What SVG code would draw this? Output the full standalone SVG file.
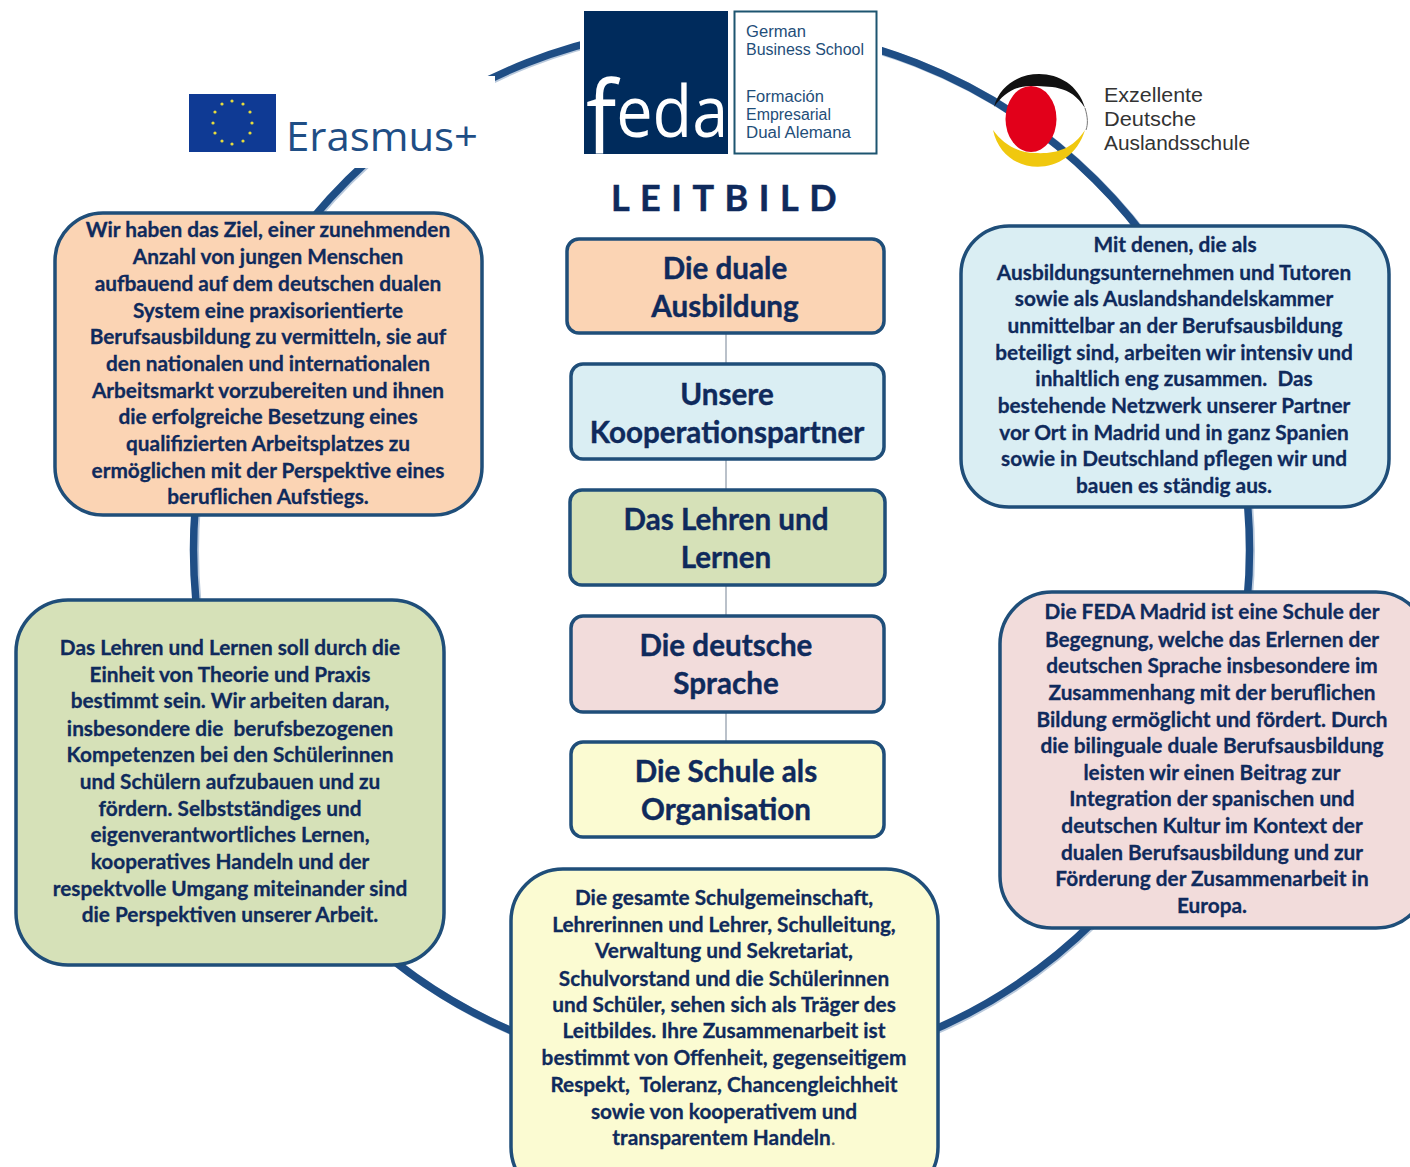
<svg xmlns="http://www.w3.org/2000/svg" width="1410" height="1167" viewBox="0 0 1410 1167">
<style>
text{font-family:"Lato","Liberation Sans",sans-serif;white-space:pre}
.b{font-weight:700;fill:#0f2a5c;font-size:20.8px;text-anchor:middle;stroke:#0f2a5c;stroke-width:.3}
.h{font-weight:700;fill:#0f2a5c;font-size:29.600px;text-anchor:middle;stroke:#0f2a5c;stroke-width:.4}
.box{stroke:#1f4e79;stroke-width:3.5}
.lg{fill:#1f4e79;font-size:15.600px;font-family:"Liberation Sans",sans-serif}
.ex{fill:#333;font-size:20px;font-family:"Liberation Sans",sans-serif}
</style>
<rect width="1410" height="1167" fill="#fff"/>
<g id="connectors">
<ellipse cx="723" cy="551" rx="528" ry="524" fill="none" stroke="#b9c9dc" stroke-width="8"/>
<ellipse cx="721.500" cy="550" rx="528" ry="524" fill="none" stroke="#1f4e85" stroke-width="7.500"/>
<path d="M726 330V745" stroke="#a3adb8" stroke-width="1.500" fill="none"/>
</g>
<g id="logo-erasmus">
<rect x="170" y="76" width="325" height="92" fill="#fff"/>
<rect x="189" y="94" width="87" height="58" fill="#0f3a94"/>
<g fill="#e8dc3c"><circle cx="232" cy="101" r="1.600"/><circle cx="243" cy="104" r="1.600"/><circle cx="250" cy="112" r="1.600"/><circle cx="252" cy="123" r="1.600"/><circle cx="250" cy="133" r="1.600"/><circle cx="243" cy="141" r="1.600"/><circle cx="232" cy="144" r="1.600"/><circle cx="222" cy="141" r="1.600"/><circle cx="215" cy="133" r="1.600"/><circle cx="213" cy="123" r="1.600"/><circle cx="215" cy="112" r="1.600"/><circle cx="222" cy="104" r="1.600"/></g>
<text x="286" y="151" font-size="40" fill="#1f4e85" style="font-family:'Open Sans','Liberation Sans',sans-serif" textLength="192" lengthAdjust="spacingAndGlyphs">Erasmus+</text>
</g>
<g id="logo-feda">
<rect x="580" y="0" width="302" height="165" fill="#fff"/>
<rect x="584" y="11" width="144" height="143" fill="#002b5c"/>
<text transform="scale(.9,1)" x="651" y="154" fill="#fff" font-weight="400" style="font-family:'Open Sans','Liberation Sans',sans-serif"><tspan font-size="100">f</tspan><tspan font-size="72" dy="-17">eda</tspan></text>
<rect x="734.500" y="11.500" width="142" height="142" fill="#fff" stroke="#1d5570" stroke-width="2"/>
<text class="lg" x="746" y="37" textLength="60" lengthAdjust="spacingAndGlyphs">German</text>
<text class="lg" x="746" y="55" textLength="118" lengthAdjust="spacingAndGlyphs">Business School</text>
<text class="lg" x="746" y="102" textLength="78" lengthAdjust="spacingAndGlyphs">Formación</text>
<text class="lg" x="746" y="120" textLength="85" lengthAdjust="spacingAndGlyphs">Empresarial</text>
<text class="lg" x="746" y="138" textLength="105" lengthAdjust="spacingAndGlyphs">Dual Alemana</text>
</g>
<g id="logo-exzellente">
<path d="M994 107C1005 64 1072 62 1085 108C1070 84 1050 87 1030 86C1015 86 1003 94 994 107Z" fill="#111"/>
<path d="M1085 108C1088 118 1088 124 1086 130" fill="none" stroke="#777" stroke-width="1"/>
<ellipse cx="1031" cy="119" rx="25.500" ry="33" fill="#e2001a"/>
<path d="M993 130C1003 178 1070 180 1085 130C1072 150 1055 154 1035 153C1018 153 1003 144 993 130Z" fill="#f0c80f"/>
<text class="ex" x="1104" y="102" textLength="99" lengthAdjust="spacingAndGlyphs">Exzellente</text>
<text class="ex" x="1104" y="126" textLength="92" lengthAdjust="spacingAndGlyphs">Deutsche</text>
<text class="ex" x="1104" y="150" textLength="146" lengthAdjust="spacingAndGlyphs">Auslandsschule</text>
</g>
<text id="title" x="729" y="211" font-size="36" font-weight="700" fill="#0f2a5c" stroke="#0f2a5c" stroke-width=".5" text-anchor="middle" letter-spacing="10.500">LEITBILD</text>
<g id="h1"><rect class="box" x="567" y="239" width="317" height="94" rx="12" fill="#fbd4b4"/><text class="h" x="725" y="279">Die duale</text><text class="h" x="725" y="317">Ausbildung</text></g>
<g id="h2"><rect class="box" x="571" y="364" width="313" height="95" rx="12" fill="#daeef3"/><text class="h" x="727" y="405">Unsere</text><text class="h" x="727" y="443">Kooperationspartner</text></g>
<g id="h3"><rect class="box" x="570" y="490" width="315" height="95" rx="12" fill="#d6e1b8"/><text class="h" x="726" y="530">Das Lehren und</text><text class="h" x="726" y="568">Lernen</text></g>
<g id="h4"><rect class="box" x="571" y="616" width="313" height="96" rx="12" fill="#f2dcdb"/><text class="h" x="726" y="656">Die deutsche</text><text class="h" x="726" y="694">Sprache</text></g>
<g id="h5"><rect class="box" x="571" y="742" width="313" height="95" rx="12" fill="#fbfbd2"/><text class="h" x="726" y="782">Die Schule als</text><text class="h" x="726" y="820">Organisation</text></g>
<g id="t-orange"><rect class="box" x="55" y="213" width="427" height="302" rx="48" fill="#fbd4b4"/>
<text class="b" x="268" y="237">Wir haben das Ziel, einer zunehmenden</text><text class="b" x="268" y="264">Anzahl von jungen Menschen</text><text class="b" x="268" y="291">aufbauend auf dem deutschen dualen</text><text class="b" x="268" y="318">System eine praxisorientierte</text><text class="b" x="268" y="344">Berufsausbildung zu vermitteln, sie auf</text><text class="b" x="268" y="371">den nationalen und internationalen</text><text class="b" x="268" y="398">Arbeitsmarkt vorzubereiten und ihnen</text><text class="b" x="268" y="424">die erfolgreiche Besetzung eines</text><text class="b" x="268" y="451">qualifizierten Arbeitsplatzes zu</text><text class="b" x="268" y="478">ermöglichen mit der Perspektive eines</text><text class="b" x="268" y="504">beruflichen Aufstiegs.</text></g>
<g id="t-blue"><rect class="box" x="961" y="226" width="428" height="281" rx="48" fill="#daeef3"/>
<text class="b" x="1175" y="252">Mit denen, die als</text><text class="b" x="1174" y="280">Ausbildungsunternehmen und Tutoren</text><text class="b" x="1174" y="306">sowie als Auslandshandelskammer</text><text class="b" x="1175" y="333">unmittelbar an der Berufsausbildung</text><text class="b" x="1174" y="360">beteiligt sind, arbeiten wir intensiv und</text><text class="b" x="1174" y="386">inhaltlich eng zusammen.  Das</text><text class="b" x="1174" y="413">bestehende Netzwerk unserer Partner</text><text class="b" x="1174" y="440">vor Ort in Madrid und in ganz Spanien</text><text class="b" x="1174" y="466">sowie in Deutschland pflegen wir und</text><text class="b" x="1174" y="493">bauen es ständig aus.</text></g>
<g id="t-green"><rect class="box" x="16" y="600" width="428" height="365" rx="52" fill="#d6e1b8"/>
<text class="b" x="230" y="655">Das Lehren und Lernen soll durch die</text><text class="b" x="230" y="682">Einheit von Theorie und Praxis</text><text class="b" x="230" y="708">bestimmt sein. Wir arbeiten daran,</text><text class="b" x="230" y="736">insbesondere die  berufsbezogenen</text><text class="b" x="230" y="762">Kompetenzen bei den Schülerinnen</text><text class="b" x="230" y="789">und Schülern aufzubauen und zu</text><text class="b" x="230" y="816">fördern. Selbstständiges und</text><text class="b" x="230" y="842">eigenverantwortliches Lernen,</text><text class="b" x="230" y="869">kooperatives Handeln und der</text><text class="b" x="230" y="896">respektvolle Umgang miteinander sind</text><text class="b" x="230" y="922">die Perspektiven unserer Arbeit.</text></g>
<g id="t-pink"><rect class="box" x="1000" y="592" width="428" height="336" rx="52" fill="#f2dcdb"/>
<text class="b" x="1212" y="619">Die FEDA Madrid ist eine Schule der</text><text class="b" x="1212" y="647">Begegnung, welche das Erlernen der</text><text class="b" x="1212" y="673">deutschen Sprache insbesondere im</text><text class="b" x="1212" y="700">Zusammenhang mit der beruflichen</text><text class="b" x="1212" y="727">Bildung ermöglicht und fördert. Durch</text><text class="b" x="1212" y="753">die bilinguale duale Berufsausbildung</text><text class="b" x="1212" y="780">leisten wir einen Beitrag zur</text><text class="b" x="1212" y="806">Integration der spanischen und</text><text class="b" x="1212" y="833">deutschen Kultur im Kontext der</text><text class="b" x="1212" y="860">dualen Berufsausbildung und zur</text><text class="b" x="1212" y="886">Förderung der Zusammenarbeit in</text><text class="b" x="1212" y="913">Europa.</text></g>
<g id="t-yellow"><rect class="box" x="511" y="869" width="427" height="330" rx="52" fill="#fbfbd2"/>
<text class="b" x="724" y="905">Die gesamte Schulgemeinschaft,</text><text class="b" x="724" y="932">Lehrerinnen und Lehrer, Schulleitung,</text><text class="b" x="724" y="958">Verwaltung und Sekretariat,</text><text class="b" x="724" y="986">Schulvorstand und die Schülerinnen</text><text class="b" x="724" y="1012">und Schüler, sehen sich als Träger des</text><text class="b" x="724" y="1038">Leitbildes. Ihre Zusammenarbeit ist</text><text class="b" x="724" y="1065">bestimmt von Offenheit, gegenseitigem</text><text class="b" x="724" y="1092">Respekt,  Toleranz, Chancengleichheit</text><text class="b" x="724" y="1119">sowie von kooperativem und</text><text class="b" x="724" y="1145">transparentem Handeln<tspan fill="#666" stroke="none" font-weight="400">.</tspan></text></g>
</svg>
